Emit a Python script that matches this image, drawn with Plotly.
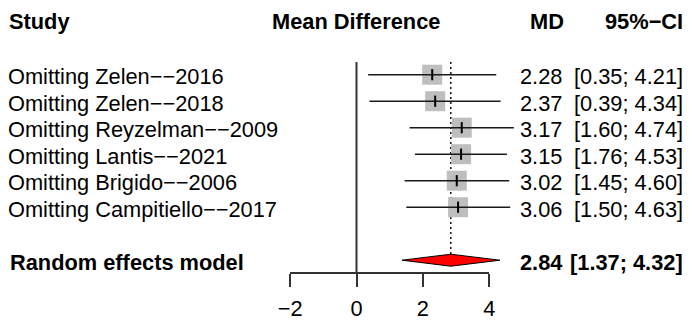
import plotly.graph_objects as go

# ---- data ----
studies = [
    "Omitting Zelen\u2212\u22122016",
    "Omitting Zelen\u2212\u22122018",
    "Omitting Reyzelman\u2212\u22122009",
    "Omitting Lantis\u2212\u22122021",
    "Omitting Brigido\u2212\u22122006",
    "Omitting Campitiello\u2212\u22122017",
]
md = [2.28, 2.37, 3.17, 3.15, 3.02, 3.06]
ci_lo = [0.35, 0.39, 1.60, 1.76, 1.45, 1.50]
ci_hi = [4.21, 4.34, 4.74, 4.53, 4.60, 4.63]

summary_label = "Random effects model"
summary_md = 2.84
summary_lo = 1.37
summary_hi = 4.32

tick_vals = [-2, 0, 2, 4]
tick_text = ["\u22122", "0", "2", "4"]

# ---- layout geometry ----
W, H = 692, 323
PX_ZERO, PX_PER_UNIT = 356.5, 33.2        # horizontal scale of the effect axis
ROW0_PX, ROW_PX = 21.7, 26.5              # vertical position of header row, row pitch
FONT = "Liberation Sans, Arial, Helvetica, sans-serif"
FS = 21.8

x_range = [-PX_ZERO / PX_PER_UNIT, (W - PX_ZERO) / PX_PER_UNIT]
y_range = [(H - ROW0_PX) / ROW_PX, -ROW0_PX / ROW_PX]   # reversed: row 0 on top

study_rows = [2 + i for i in range(len(studies))]
summary_row = study_rows[-1] + 2
axis_row = summary_row + 0.494
top_row = 1.52
diamond_half = 0.226

fig = go.Figure()

# dotted line at the pooled estimate
fig.add_shape(type="line", xref="x", yref="y", x0=summary_md, x1=summary_md,
              y0=top_row, y1=summary_row, layer="below",
              line=dict(color="black", width=1.4, dash="2px,3px"))
# line of no effect
fig.add_shape(type="line", xref="x", yref="y", x0=0, x1=0,
              y0=top_row, y1=axis_row, line=dict(color="#333333", width=2))

# study weights (grey squares)
fig.add_trace(go.Scatter(
    x=md, y=study_rows, mode="markers", hoverinfo="skip",
    marker=dict(symbol="square", size=20, color="#bebebe", line=dict(width=0)),
))

# confidence intervals
for lo, hi, r in zip(ci_lo, ci_hi, study_rows):
    fig.add_trace(go.Scatter(x=[lo, hi], y=[r, r], mode="lines", hoverinfo="skip",
                             line=dict(color="#1a1a1a", width=1.6), cliponaxis=False))

# point estimates
fig.add_trace(go.Scatter(
    x=md, y=study_rows, mode="markers", hoverinfo="skip",
    marker=dict(symbol="line-ns", size=8, line=dict(color="black", width=2)),
))

# pooled-effect diamond
fig.add_trace(go.Scatter(
    x=[summary_lo, summary_md, summary_hi, summary_md, summary_lo],
    y=[summary_row, summary_row - diamond_half, summary_row,
       summary_row + diamond_half, summary_row],
    mode="lines", fill="toself", fillcolor="red", hoverinfo="skip",
    line=dict(color="black", width=1),
))

# invisible trace that carries the effect axis
fig.add_trace(go.Scatter(x=tick_vals, y=[axis_row] * 4, xaxis="x2", yaxis="y",
                         mode="markers", marker=dict(opacity=0), hoverinfo="skip"))

def px(xp):
    return xp / W

ann = []
def text(x, y, s, anchor, bold=False):
    ann.append(dict(x=px(x), y=y, xref="paper", yref="y", text=f"<b>{s}</b>" if bold else s,
                    xanchor=anchor, yanchor="middle", showarrow=False,
                    font=dict(family=FONT, size=FS, color="black")))

# headers
text(7, 0, "Study", "left", True)
text(356, 0, "Mean Difference", "center", True)
text(566, 0, "MD", "right", True)
text(685, 0, "95%\u2212CI", "right", True)

for s, m, lo, hi, r in zip(studies, md, ci_lo, ci_hi, study_rows):
    text(6, r + 0.08, s, "left")
    text(564, r + 0.08, f"{m:.2f}", "right")
    text(685, r + 0.08, f"[{lo:.2f}; {hi:.2f}]", "right")

text(8, summary_row + 0.08, summary_label, "left", True)
text(564, summary_row + 0.08, f"{summary_md:.2f}", "right", True)
text(685, summary_row + 0.08, f"[{summary_lo:.2f}; {summary_hi:.2f}]", "right", True)

ax2_lo = (PX_ZERO - 2 * PX_PER_UNIT) / W
ax2_hi = (PX_ZERO + 4 * PX_PER_UNIT) / W
axis_pos = (H - (ROW0_PX + axis_row * ROW_PX)) / H

fig.update_layout(
    width=W, height=H, margin=dict(l=0, r=0, t=0, b=0, pad=0, autoexpand=False),
    paper_bgcolor="white", plot_bgcolor="rgba(0,0,0,0)", showlegend=False,
    annotations=ann,
    xaxis=dict(domain=[0, 1], range=x_range, visible=False, automargin=False),
    yaxis=dict(domain=[0, 1], range=y_range, visible=False, automargin=False),
    xaxis2=dict(domain=[ax2_lo, ax2_hi], range=[-2, 4], anchor="free", position=axis_pos,
                side="bottom", automargin=False,
                showline=True, linecolor="#333333", linewidth=2,
                ticks="outside", ticklen=13, tickwidth=2, tickcolor="#333333",
                ticklabelstandoff=3,
                tickvals=tick_vals, ticktext=tick_text, showgrid=False, zeroline=False,
                tickfont=dict(family=FONT, size=FS, color="black")),
)

fig.write_html("out.html")
